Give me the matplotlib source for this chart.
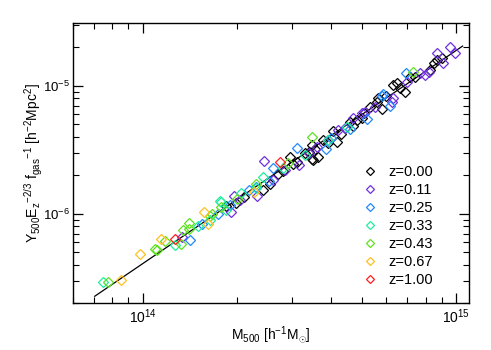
import numpy as np
import matplotlib
matplotlib.use('Agg')
import matplotlib.pyplot as plt

plt.rcParams['font.family'] = ['Liberation Sans', 'DejaVu Sans']
plt.rcParams['mathtext.fontset'] = 'custom'
plt.rcParams['mathtext.rm'] = 'Liberation Sans'
plt.rcParams['mathtext.it'] = 'Liberation Sans'

## Data: M500 in units of 1e14 h^-1 Msun, Y in units of 1e-6 h^-2 Mpc^2

redshifts = ['0.00', '0.11', '0.25', '0.33', '0.43', '0.67', '1.00']
colours = ['black', '#7030e0', '#2088ff', '#20eea0', '#60e020', '#ffc020', '#ff2020']

m_z000 = [1.85, 1.98, 2.10, 2.42, 2.55, 2.70, 2.80, 2.95, 3.01, 3.10, 3.29, 3.40, 3.46, 3.50,
          3.55, 3.63, 3.77, 3.90, 4.05, 4.16, 4.30, 4.58, 4.70, 4.82, 5.00, 5.31, 5.58, 5.65,
          5.79, 6.31, 6.47, 6.62, 6.87, 7.13, 7.40, 8.26, 8.51, 8.67, 9.00, 3.46, 5.10, 6.00]
y_z000 = [1.16, 1.22, 1.35, 1.54, 1.72, 2.05, 2.15, 2.80, 2.44, 2.55, 2.98, 3.05, 3.46, 2.64,
          3.20, 2.80, 3.79, 3.60, 4.40, 3.67, 4.20, 5.26, 4.90, 5.42, 5.60, 6.89, 7.55, 8.02,
          6.58, 10.2, 10.5, 9.60, 9.02, 11.8, 11.8, 13.3, 15.2, 15.96, 16.5, 2.67, 6.10, 8.40]

m_z011 = [1.335, 1.92, 1.958, 2.05, 2.32, 2.44, 2.60, 2.85, 3.15, 3.40, 3.60, 3.90, 4.21, 4.42,
          4.70, 5.00, 5.12, 5.50, 6.23, 6.30, 7.00, 7.67, 7.96, 8.20, 8.67, 9.11, 9.57, 9.93]
y_z011 = [0.661, 1.036, 1.365, 1.28, 1.365, 2.594, 1.85, 2.20, 2.40, 3.00, 3.30, 3.80, 4.53, 4.67,
          5.60, 6.10, 6.30, 6.90, 7.55, 8.00, 10.8, 12.55, 12.2, 12.8, 18.2, 15.2, 20.0, 18.2]

m_z025 = [1.416, 1.546, 1.741, 1.896, 2.18, 2.53, 2.60, 3.11, 3.84, 4.00, 4.60, 5.20, 5.79, 5.83,
          6.15, 6.92, 2.30]
y_z025 = [0.623, 0.83, 1.00, 1.176, 1.54, 1.79, 2.29, 3.24, 3.20, 3.90, 4.60, 5.50, 8.35, 8.61,
          6.98, 12.7, 1.62]

m_z033 = [0.745, 1.265, 1.50, 1.641, 1.762, 1.776, 1.841, 2.066, 2.30, 2.42, 2.80, 3.30, 3.90, 4.50]
y_z033 = [0.294, 0.573, 0.80, 0.887, 1.247, 1.241, 1.074, 1.45, 1.60, 1.955, 2.30, 2.90, 3.80, 4.80]

m_z043 = [0.773, 1.095, 1.11, 1.178, 1.322, 1.345, 1.402, 1.41, 1.637, 1.66, 1.775, 2.00, 2.30,
          2.90, 3.46, 7.27]
y_z043 = [0.294, 0.533, 0.525, 0.608, 0.583, 0.75, 0.846, 0.759, 0.952, 1.00, 1.128, 1.30, 1.70,
          2.50, 4.00, 12.9]

m_z067 = [0.855, 0.98, 1.143, 1.566, 1.617, 2.27]
y_z067 = [0.303, 0.487, 0.638, 1.024, 0.83, 1.47]

m_z100 = [1.265, 2.74]
y_z100 = [0.634, 2.56]

masses = [m_z000, m_z011, m_z025, m_z033, m_z043, m_z067, m_z100]
signals = [y_z000, y_z011, y_z025, y_z033, y_z043, y_z067, y_z100]

## Self-similar scaling line Y ~ M^(5/3)
fit_norm = 0.407e-6   # Y at M = 1e14
fit_slope = 5.0 / 3.0
fit_range = [7.03e13, 1.05e15]


fig = plt.figure(figsize=(4.91, 3.5), dpi=100)
ax = fig.add_axes([0.149, 0.134, 0.806, 0.80])

mline = np.array(fit_range)
ax.plot(mline, fit_norm * (mline / 1e14) ** fit_slope, color='black', lw=0.9, zorder=1)

for z, c, m, y in zip(redshifts, colours, masses, signals):
    ax.plot(np.array(m) * 1e14, np.array(y) * 1e-6, linestyle='none', marker='D', ms=5,
            mfc='none', mec=c, mew=0.9, label='z=' + z, zorder=2)

ax.set_xscale('log')
ax.set_yscale('log')
ax.set_xlim(6.0e13, 1.10e15)
ax.set_ylim(2.0e-7, 3.1e-5)

ax.tick_params(which='both', direction='in', top=True, right=True, labelsize=10)
ax.tick_params(which='major', length=7, width=0.9)
ax.tick_params(which='minor', length=4, width=0.8)
ax.tick_params(axis='x', which='both', pad=3)
ax.tick_params(axis='y', which='both', pad=2.5, labelsize=9.5)
for s in ax.spines.values():
    s.set_linewidth(1.0)

ax.set_xlabel(r'M$_{500}$ [h$^{-1}$M$_{\odot}$]', fontsize=10, labelpad=-1)
ax.set_ylabel(r'Y$_{500}$E$_z$$^{-2/3}$ f$_{gas}$$^{-1}$ [h$^{-2}$Mpc$^2$]', fontsize=10, labelpad=-2)

leg = ax.legend(loc='lower right', bbox_to_anchor=(0.925, 0.035), borderaxespad=0,
                frameon=False, fontsize=10.5, markerscale=0.8,
                handletextpad=0.7, labelspacing=0.28, handlelength=1.2)

fig.savefig('out.png', dpi=100)
